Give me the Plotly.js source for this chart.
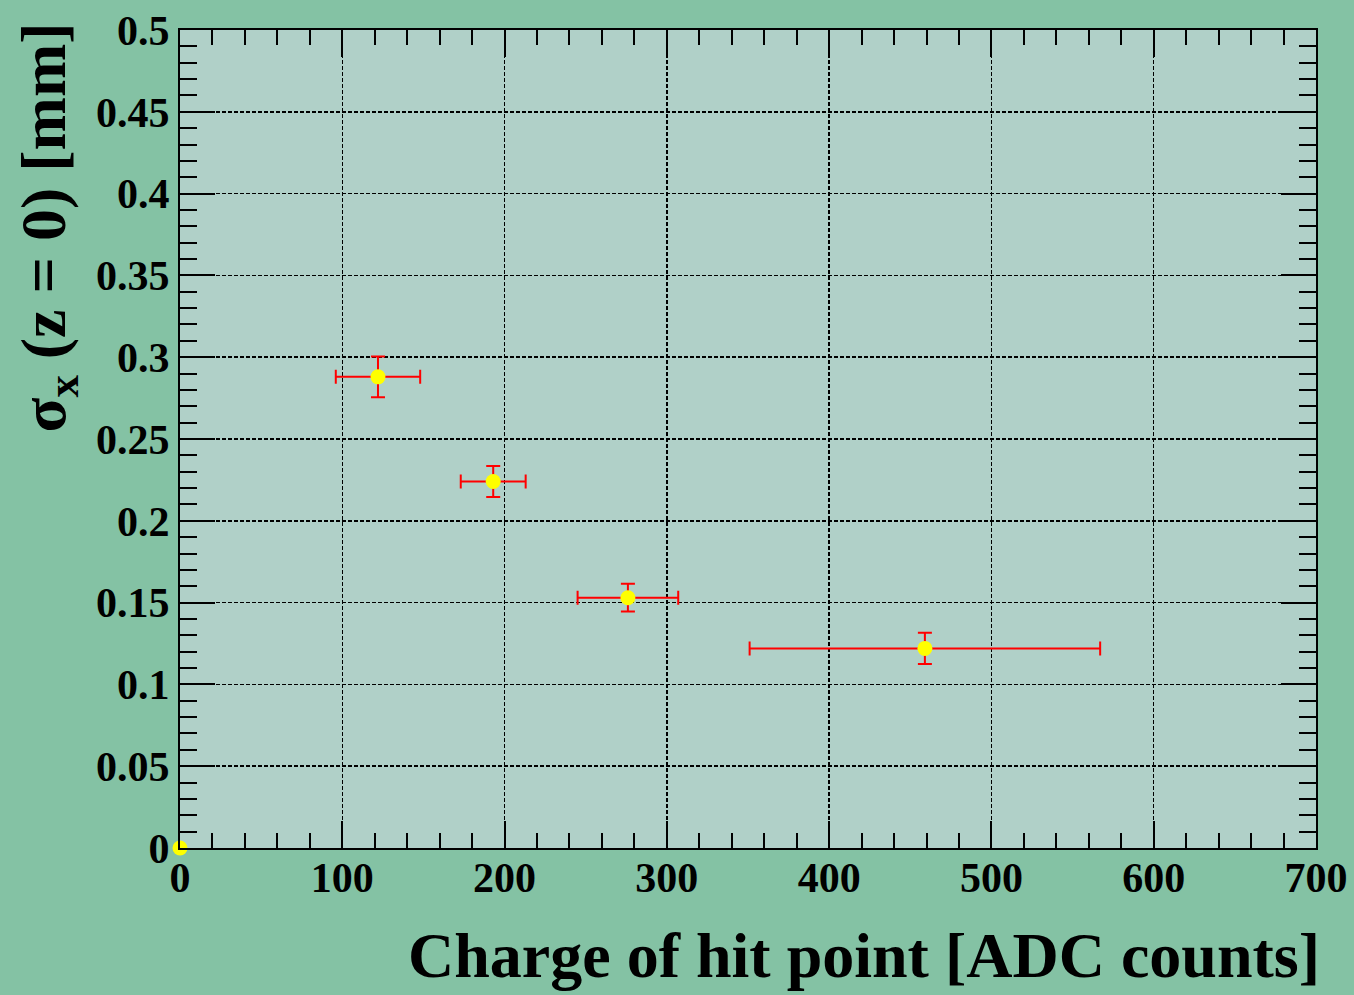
<!DOCTYPE html>
<html><head><meta charset="utf-8">
<script src="https://cdn.plot.ly/plotly-3.0.1.min.js"></script>
<style>html,body{margin:0;padding:0;background:#84c2a4;}#plot{width:1354px;height:995px;}</style>
</head><body><div id="plot"></div>
<script>
const charge = [122, 193, 276, 459, 0];
const chargeErr = [26, 20, 31, 108, 0];
const sigmaX = [0.288, 0.224, 0.153, 0.122, 0];
const sigmaErr = [0.0125, 0.0095, 0.0085, 0.0095, 0];
const xTicks = [0, 100, 200, 300, 400, 500, 600, 700];
const yTicks = [0, 0.05, 0.1, 0.15, 0.2, 0.25, 0.3, 0.35, 0.4, 0.45, 0.5];
const yTickText = ['0', '0.05', '0.1', '0.15', '0.2', '0.25', '0.3', '0.35', '0.4', '0.45', '0.5'];
const xTitle = 'Charge of hit point [ADC counts]';
const yTitle = 'σ<sub>x</sub> (z = 0) [mm]';

const serif = 'Liberation Serif, Times New Roman, serif';
const trace = {
  x: charge, y: sigmaX, type: 'scatter', mode: 'markers', cliponaxis: false,
  marker: {color: '#ffff00', size: 15, line: {width: 0}},
  error_x: {type: 'data', array: chargeErr, visible: true, color: '#ff0000', thickness: 2, width: 7},
  error_y: {type: 'data', array: sigmaErr, visible: true, color: '#ff0000', thickness: 2, width: 7},
  showlegend: false, hoverinfo: 'none'
};
const tickFont = {family: serif, size: 42, color: '#000', weight: 'bold'};
const layout = {
  width: 1354, height: 995,
  paper_bgcolor: '#84c2a4', plot_bgcolor: '#b0d0c8',
  margin: {l: 180, r: 38, t: 30, b: 147},
  font: {family: serif, color: '#000', weight: 'bold'},
  xaxis: {
    range: [0, 700], tickvals: xTicks, ticktext: xTicks.map(String),
    ticks: 'inside', ticklen: 27, tickwidth: 2, tickcolor: '#000',
    showline: true, linewidth: 2, linecolor: '#000', mirror: 'allticks',
    showgrid: true, gridcolor: '#000', gridwidth: 1.5, griddash: '4px,2px',
    zeroline: false, tickfont: tickFont, ticklabelstandoff: -8,
    minor: {dtick: 20, ticks: 'inside', ticklen: 15, tickwidth: 2, tickcolor: '#000', showgrid: false},
    automargin: false
  },
  yaxis: {
    range: [0, 0.5], tickvals: yTicks, ticktext: yTickText,
    ticks: 'inside', ticklen: 35, tickwidth: 2, tickcolor: '#000',
    showline: true, linewidth: 2, linecolor: '#000', mirror: 'allticks',
    showgrid: true, gridcolor: '#000', gridwidth: 1.5, griddash: '4px,2px',
    zeroline: false, tickfont: tickFont,
    minor: {dtick: 0.01, ticks: 'inside', ticklen: 17, tickwidth: 2, tickcolor: '#000', showgrid: false},
    automargin: false
  },
  annotations: [
    {text: xTitle, xref: 'paper', yref: 'paper', x: 1.0053, y: -0.131, xanchor: 'right', yanchor: 'middle',
     showarrow: false, font: {family: serif, size: 64, color: '#000', weight: 'bold'}},
    {text: yTitle, xref: 'paper', yref: 'paper', x: -0.116, y: 1.012, xanchor: 'center', yanchor: 'top',
     textangle: -90, showarrow: false, font: {family: serif, size: 64, color: '#000', weight: 'bold'}}
  ]
};
Plotly.newPlot('plot', [trace], layout, {displayModeBar: false, staticPlot: true});
</script></body></html>
